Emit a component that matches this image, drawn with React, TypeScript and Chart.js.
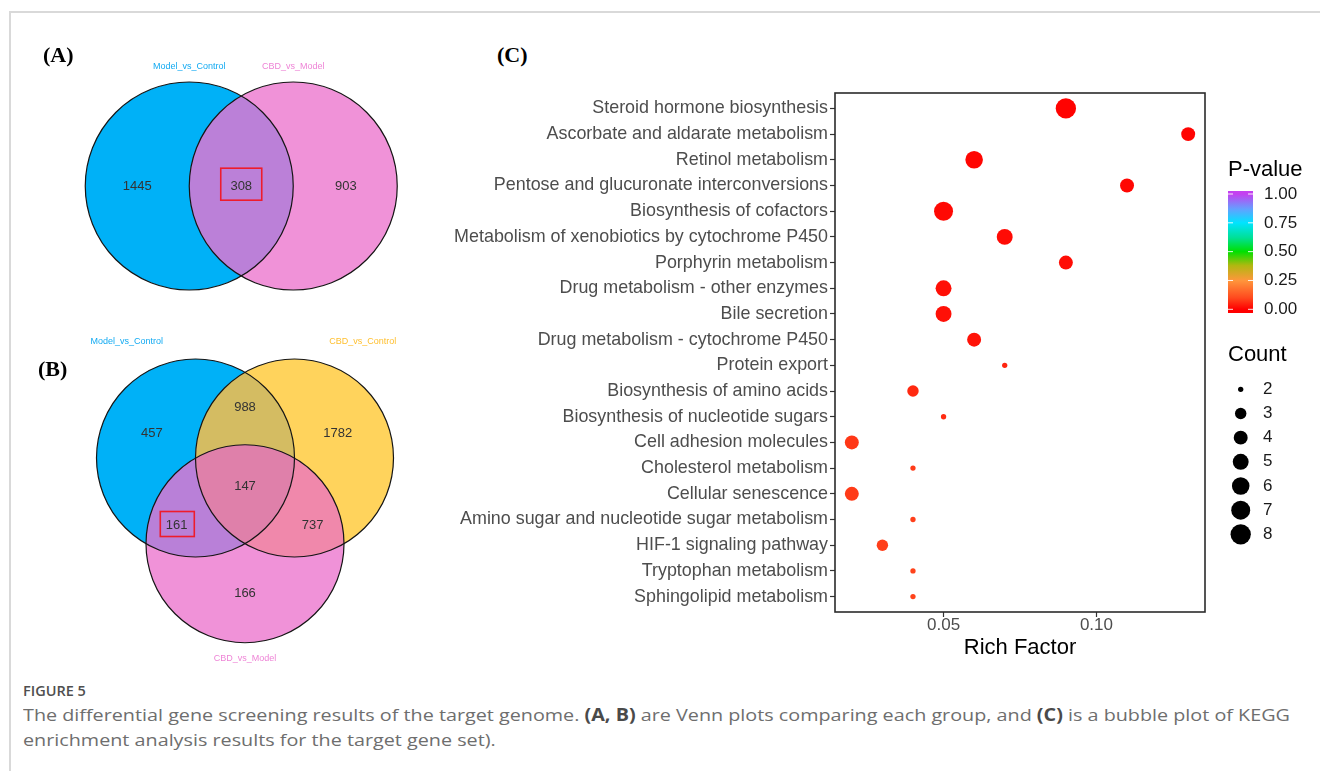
import React, { useEffect, useLayoutEffect, useRef, useState } from "react";
import { Chart, registerables } from "chart.js";

Chart.register(...registerables);

const SANS = "'Liberation Sans', Arial, sans-serif";
const SERIF = "'Liberation Serif', 'Times New Roman', serif";

// ---------- Venn (A): two comparison sets ----------
const vennASetNames = ["Model_vs_Control", "CBD_vs_Model"];
// left only, shared, right only
const vennACounts = [1445, 308, 903];

// ---------- Venn (B): three comparison sets ----------
const vennBSetNames = ["Model_vs_Control", "CBD_vs_Control", "CBD_vs_Model"];
// M only, M&C, C only, all three, M&Mo, C&Mo, Mo only
const vennBCounts = [457, 988, 1782, 147, 161, 737, 166];

// ---------- (C) KEGG enrichment ----------
const pathways = [
  "Steroid hormone biosynthesis",
  "Ascorbate and aldarate metabolism",
  "Retinol metabolism",
  "Pentose and glucuronate interconversions",
  "Biosynthesis of cofactors",
  "Metabolism of xenobiotics by cytochrome P450",
  "Porphyrin metabolism",
  "Drug metabolism - other enzymes",
  "Bile secretion",
  "Drug metabolism - cytochrome P450",
  "Protein export",
  "Biosynthesis of amino acids",
  "Biosynthesis of nucleotide sugars",
  "Cell adhesion molecules",
  "Cholesterol metabolism",
  "Cellular senescence",
  "Amino sugar and nucleotide sugar metabolism",
  "HIF-1 signaling pathway",
  "Tryptophan metabolism",
  "Sphingolipid metabolism",
];
const richFactor = [0.09, 0.13, 0.06, 0.11, 0.05, 0.07, 0.09, 0.05, 0.05, 0.06, 0.07, 0.04, 0.05, 0.02, 0.04, 0.02, 0.04, 0.03, 0.04, 0.04];
const geneCount = [8, 4, 6, 4, 7, 5, 4, 5, 5, 4, 2, 3, 2, 4, 2, 4, 2, 3, 2, 2];
const pValue = [0.004, 0.006, 0.008, 0.01, 0.012, 0.015, 0.018, 0.02, 0.022, 0.025, 0.05, 0.055, 0.06, 0.075, 0.08, 0.08, 0.085, 0.085, 0.09, 0.09];
const richFactorTicks = [0.05, 0.1];
const pValueBreaks = [0, 0.25, 0.5, 0.75, 1];
const countBreaks = [2, 3, 4, 5, 6, 7, 8];

// ---------- colour / size scales ----------
const pStops: [number, [number, number, number]][] = [
  [0.0, [255, 0, 0]],
  [0.1, [255, 74, 30]],
  [0.25, [255, 150, 60]],
  [0.38, [176, 184, 16]],
  [0.5, [0, 224, 0]],
  [0.62, [0, 224, 150]],
  [0.75, [0, 228, 255]],
  [0.87, [100, 160, 255]],
  [1.0, [196, 64, 240]],
];

function pColor(p: number): string {
  for (let i = 1; i < pStops.length; i++) {
    const [v1, c1] = pStops[i];
    const [v0, c0] = pStops[i - 1];
    if (p <= v1) {
      const t = (p - v0) / (v1 - v0);
      const c = c0.map((a, k) => Math.round(a + (c1[k] - a) * t));
      return `rgb(${c[0]},${c[1]},${c[2]})`;
    }
  }
  const c = pStops[pStops.length - 1][1];
  return `rgb(${c[0]},${c[1]},${c[2]})`;
}

const countMin = Math.min(...geneCount);
const countMax = Math.max(...geneCount);
function countRadius(n: number): number {
  const size = 1 + 5 * Math.sqrt((n - countMin) / (countMax - countMin));
  return (3.0 * size + 2.3) / 2;
}

// ---------- Venn drawing ----------
type Pt = [number, number];
interface VennLayout {
  box: { left: number; top: number; width: number; height: number };
  unit: number;
  origin: Pt;
  circles: Pt[];
  radius: number;
  fills: string[];
  overlaps: { sets: number[]; color: string }[];
  nameColors: string[];
  namePos: Pt[];
  countPos: Pt[];
  highlight: { index: number; w: number; h: number; dx: number; dy: number };
}

const vennALayout: VennLayout = {
  box: { left: 20, top: 40, width: 400, height: 270 },
  unit: 104,
  origin: [221.25, 146],
  circles: [[-0.5, 0], [0.5, 0]],
  radius: 1,
  fills: ["#00b1f7", "#f092d8"],
  overlaps: [{ sets: [0, 1], color: "#bb80d8" }],
  nameColors: ["#12aaf2", "#ee84d6"],
  namePos: [[-0.5, 1.147], [0.5, 1.147]],
  countPos: [[-1.0, 0], [0, 0], [1.005, 0]],
  highlight: { index: 1, w: 41, h: 32, dx: 0, dy: -1.8 },
};

const vennBLayout: VennLayout = {
  box: { left: 20, top: 320, width: 400, height: 360 },
  unit: 99,
  origin: [225, 138],
  circles: [[-0.5, 0], [0.5, 0], [0, -0.866]],
  radius: 1,
  fills: ["#00b1f7", "#ffd35c", "#f092d8"],
  overlaps: [
    { sets: [0, 1], color: "#d4bc62" },
    { sets: [0, 2], color: "#b980d8" },
    { sets: [1, 2], color: "#f088ab" },
    { sets: [0, 1, 2], color: "#df80aa" },
  ],
  nameColors: ["#12aaf2", "#ffbf2e", "#ee84d6"],
  namePos: [[-1.195, 1.175], [1.189, 1.175], [0, -2.03]],
  countPos: [[-0.94, 0.25], [0, 0.506], [0.936, 0.25], [0, -0.283], [-0.69, -0.684], [0.684, -0.684], [0, -1.367]],
  highlight: { index: 4, w: 34, h: 25, dx: 0.6, dy: -1.7 },
};

function makeVennPlugin(names: string[], counts: number[], L: VennLayout) {
  return {
    id: "vennRegions",
    beforeDatasetsDraw(chart: any) {
      const ctx = chart.ctx as CanvasRenderingContext2D;
      const xs = chart.scales.x;
      const ys = chart.scales.y;
      const rpx = xs.getPixelForValue(L.radius) - xs.getPixelForValue(0);
      const path = (i: number) => {
        const [cx, cy] = L.circles[i];
        ctx.beginPath();
        ctx.arc(xs.getPixelForValue(cx), ys.getPixelForValue(cy), rpx, 0, Math.PI * 2);
      };
      ctx.save();
      L.circles.forEach((_, i) => {
        path(i);
        ctx.fillStyle = L.fills[i];
        ctx.fill();
      });
      L.overlaps.forEach((o) => {
        ctx.save();
        o.sets.slice(0, -1).forEach((k) => {
          path(k);
          ctx.clip();
        });
        path(o.sets[o.sets.length - 1]);
        ctx.fillStyle = o.color;
        ctx.fill();
        ctx.restore();
      });
      ctx.lineWidth = 1.2;
      ctx.strokeStyle = "#151515";
      L.circles.forEach((_, i) => {
        path(i);
        ctx.stroke();
      });
      ctx.restore();
    },
    afterDatasetsDraw(chart: any) {
      const ctx = chart.ctx as CanvasRenderingContext2D;
      const xs = chart.scales.x;
      const ys = chart.scales.y;
      const pts = chart.getDatasetMeta(0).data;
      ctx.save();
      ctx.textAlign = "center";
      ctx.textBaseline = "middle";
      ctx.font = `13px ${SANS}`;
      ctx.fillStyle = "#333333";
      counts.forEach((n, i) => {
        ctx.fillText(String(n), pts[i].x, pts[i].y);
      });
      const h = L.highlight;
      const hp = pts[h.index];
      ctx.strokeStyle = "#ee1c2c";
      ctx.lineWidth = 1.6;
      ctx.strokeRect(hp.x + h.dx - h.w / 2, hp.y + h.dy - h.h / 2, h.w, h.h);
      ctx.font = `9px ${SANS}`;
      names.forEach((name, i) => {
        const [nx, ny] = L.namePos[i];
        ctx.fillStyle = L.nameColors[i];
        ctx.fillText(name, xs.getPixelForValue(nx), ys.getPixelForValue(ny));
      });
      ctx.restore();
    },
  };
}

function Venn({ names, counts, layout }: { names: string[]; counts: number[]; layout: VennLayout }) {
  const ref = useRef<HTMLCanvasElement>(null);
  const { left, top, width, height } = layout.box;
  useEffect(() => {
    const [ox, oy] = layout.origin;
    const u = layout.unit;
    const chart = new Chart(ref.current as HTMLCanvasElement, {
      type: "scatter",
      data: {
        datasets: [
          {
            data: layout.countPos.map(([x, y]) => ({ x, y })),
            pointRadius: 0,
            pointHoverRadius: 0,
          },
        ],
      },
      options: {
        responsive: false,
        animation: false,
        events: [],
        layout: { padding: 0 },
        plugins: { legend: { display: false }, tooltip: { enabled: false } },
        scales: {
          x: { type: "linear", display: false, min: -ox / u, max: (width - ox) / u },
          y: { type: "linear", display: false, min: -(height - oy) / u, max: oy / u },
        },
      },
      plugins: [makeVennPlugin(names, counts, layout)],
    } as any);
    return () => chart.destroy();
  }, []);
  return <canvas ref={ref} width={width} height={height} style={{ position: "absolute", left, top }} />;
}

// ---------- KEGG bubble chart ----------
const bubbleBox = { left: 440, top: 80, width: 880, height: 590 };

const keggDecor = {
  id: "keggDecor",
  afterDatasetsDraw(chart: any) {
    const ctx = chart.ctx as CanvasRenderingContext2D;
    const a = chart.chartArea;
    ctx.save();
    ctx.strokeStyle = "#2b2b2b";
    ctx.lineWidth = 1.6;
    ctx.strokeRect(a.left, a.top, a.right - a.left, a.bottom - a.top);
    ctx.restore();
  },
  afterDraw(chart: any) {
    const ctx = chart.ctx as CanvasRenderingContext2D;
    const a = chart.chartArea;
    const lx = a.right + 23;
    ctx.save();
    ctx.textAlign = "left";
    ctx.textBaseline = "middle";
    // P-value colour bar
    ctx.fillStyle = "#000";
    ctx.font = `22px ${SANS}`;
    ctx.fillText("P-value", lx, 90);
    const barW = 25;
    const barTop = 111;
    const barBot = 233;
    const y0 = 229.3;
    const y1 = 114;
    const grad = ctx.createLinearGradient(0, y0, 0, y1);
    pStops.forEach(([v, c]) => grad.addColorStop(v, `rgb(${c[0]},${c[1]},${c[2]})`));
    ctx.fillStyle = grad;
    ctx.fillRect(lx, barTop, barW, barBot - barTop);
    ctx.strokeStyle = "rgba(255,255,255,0.9)";
    ctx.lineWidth = 1;
    ctx.font = `17px ${SANS}`;
    pValueBreaks.forEach((v) => {
      const y = y0 + (y1 - y0) * v;
      ctx.beginPath();
      ctx.moveTo(lx, y);
      ctx.lineTo(lx + 5, y);
      ctx.moveTo(lx + barW - 5, y);
      ctx.lineTo(lx + barW, y);
      ctx.stroke();
      ctx.fillStyle = "#1a1a1a";
      ctx.fillText(v.toFixed(2), lx + 36, y);
    });
    // Count size legend
    ctx.fillStyle = "#000";
    ctx.font = `22px ${SANS}`;
    ctx.fillText("Count", lx, 275);
    ctx.font = `17px ${SANS}`;
    countBreaks.forEach((n, i) => {
      const y = 309.3 + i * 24.17;
      ctx.beginPath();
      ctx.arc(lx + 12.7, y, countRadius(n), 0, Math.PI * 2);
      ctx.fillStyle = "#000";
      ctx.fill();
      ctx.fillStyle = "#1a1a1a";
      ctx.fillText(String(n), lx + 35, y);
    });
    ctx.restore();
  },
};

function KeggBubble() {
  const ref = useRef<HTMLCanvasElement>(null);
  useEffect(() => {
    const chart = new Chart(ref.current as HTMLCanvasElement, {
      type: "scatter",
      data: {
        datasets: [
          {
            data: pathways.map((_, i) => ({ x: richFactor[i], y: i + 1 })),
            pointRadius: (c: any) => countRadius(geneCount[c.dataIndex]),
            pointHoverRadius: (c: any) => countRadius(geneCount[c.dataIndex]),
            backgroundColor: (c: any) => pColor(pValue[c.dataIndex]),
            pointBorderWidth: 0,
            borderWidth: 0,
            clip: false,
          },
        ],
      },
      options: {
        responsive: false,
        animation: false,
        events: [],
        layout: { padding: { left: 0, right: 115, top: 13, bottom: 0 } },
        plugins: { legend: { display: false }, tooltip: { enabled: false } },
        scales: {
          x: {
            type: "linear",
            min: 0.0145,
            max: 0.1355,
            afterBuildTicks: (s: any) => {
              s.ticks = richFactorTicks.map((v) => ({ value: v }));
            },
            afterFit: (s: any) => {
              s.height = 58;
            },
            ticks: {
              callback: (v: any) => Number(v).toFixed(2),
              font: { family: SANS, size: 17, lineHeight: 1 },
              color: "#4d4d4d",
              padding: 0,
              maxRotation: 0,
              autoSkip: false,
            },
            grid: { drawOnChartArea: false, drawTicks: true, tickLength: 5, tickColor: "#333", tickWidth: 1.2 },
            border: { display: false },
            title: {
              display: true,
              text: "Rich Factor",
              color: "#000",
              font: { family: SANS, size: 22, lineHeight: 1.2 },
              padding: { top: 0, bottom: 9 },
            },
          },
          y: {
            type: "linear",
            reverse: true,
            min: 0.4,
            max: pathways.length + 0.6,
            afterBuildTicks: (s: any) => {
              s.ticks = pathways.map((_, i) => ({ value: i + 1 }));
            },
            afterFit: (s: any) => {
              s.width = 395;
            },
            ticks: {
              callback: (v: any) => pathways[Number(v) - 1],
              font: { family: SANS, size: 17.9 },
              color: "#4d4d4d",
              padding: 2,
              autoSkip: false,
            },
            grid: { drawOnChartArea: false, drawTicks: true, tickLength: 5, tickColor: "#333", tickWidth: 1.2 },
            border: { display: false },
          },
        },
      },
      plugins: [keggDecor],
    } as any);
    return () => chart.destroy();
  }, []);
  return (
    <canvas
      ref={ref}
      width={bubbleBox.width}
      height={bubbleBox.height}
      style={{ position: "absolute", left: bubbleBox.left, top: bubbleBox.top }}
    />
  );
}

// ---------- caption ----------
const CAPTION_FONT = "'Open Sans', 'Noto Sans', sans-serif";

function Caption() {
  const line1 = useRef<HTMLSpanElement>(null);
  const head = useRef<HTMLSpanElement>(null);
  const [k, setK] = useState(1);
  const [kh, setKh] = useState(1);
  useLayoutEffect(() => {
    if (line1.current) {
      const w = line1.current.offsetWidth;
      if (w > 0) setK(1267 / w);
    }
    if (head.current) {
      const w = head.current.offsetWidth;
      if (w > 0) setKh(63 / w);
    }
  }, []);
  const lineStyle: React.CSSProperties = {
    position: "absolute",
    left: 23,
    whiteSpace: "nowrap",
    fontFamily: CAPTION_FONT,
    fontSize: 17,
    lineHeight: "24px",
    color: "#6e6e6e",
    transform: `scaleX(${k})`,
    transformOrigin: "left center",
  };
  const b: React.CSSProperties = { fontWeight: 700, color: "#4a4a4a" };
  return (
    <>
      <div
        style={{
          ...lineStyle,
          top: 681,
          fontSize: 14.5,
          lineHeight: "20px",
          fontWeight: 600,
          color: "#4f4f4f",
          transform: `scaleX(${kh})`,
        }}
      >
        <span ref={head}>FIGURE 5</span>
      </div>
      <div style={{ ...lineStyle, top: 703 }}>
        <span ref={line1}>
          The differential gene screening results of the target genome. <span style={b}>(A, B)</span> are Venn plots
          comparing each group, and <span style={b}>(C)</span> is a bubble plot of KEGG
        </span>
      </div>
      <div style={{ ...lineStyle, top: 728 }}>enrichment analysis results for the target gene set).</div>
    </>
  );
}

const panelLabel = (text: string, left: number, top: number) => (
  <div
    style={{
      position: "absolute",
      left,
      top,
      fontFamily: SERIF,
      fontWeight: 700,
      fontSize: 22,
      lineHeight: "22px",
      color: "#000",
      whiteSpace: "nowrap",
    }}
  >
    {text}
  </div>
);

export default function App() {
  return (
    <div
      style={{
        position: "absolute",
        left: 0,
        top: 0,
        width: 1320,
        height: 771,
        background: "#fff",
        overflow: "hidden",
      }}
    >
      <div style={{ position: "absolute", left: 9, top: 11, width: 1311, height: 2, background: "#d9d9d9" }} />
      <div style={{ position: "absolute", left: 9, top: 11, width: 2, height: 760, background: "#d9d9d9" }} />
      <Venn names={vennASetNames} counts={vennACounts} layout={vennALayout} />
      <Venn names={vennBSetNames} counts={vennBCounts} layout={vennBLayout} />
      <KeggBubble />
      {panelLabel("(A)", 43, 44)}
      {panelLabel("(B)", 38, 358)}
      {panelLabel("(C)", 497, 44)}
      <Caption />
    </div>
  );
}
